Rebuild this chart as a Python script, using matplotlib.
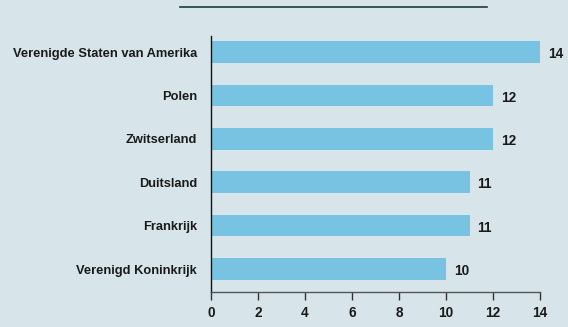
import matplotlib.pyplot as plt
from matplotlib.lines import Line2D

plt.rcParams['font.family'] = ['Liberation Sans', 'DejaVu Sans']

landen = ['Verenigde Staten van Amerika', 'Polen', 'Zwitserland',
          'Duitsland', 'Frankrijk', 'Verenigd Koninkrijk']
aantal = [14, 12, 12, 11, 11, 10]
xticks = [0, 2, 4, 6, 8, 10, 12, 14]

bg = '#d7e5ea'
bar_kleur = '#78c3e2'
tekst = '#1a1a1a'

fig = plt.figure(figsize=(5.68, 3.27), dpi=100, facecolor=bg)
ax = fig.add_axes([211 / 568, 1 - 292 / 327, 329 / 568, 256 / 327])
ax.set_facecolor(bg)

pos = list(range(len(landen)))
ax.barh(pos, aantal, height=0.5, color=bar_kleur)
for p, v in zip(pos, aantal):
    ax.annotate(str(v), (v, p), xytext=(5.5, -1.5), textcoords='offset points',
                va='center', ha='left', fontsize=9.8, fontweight='bold', color=tekst)

ax.set_xlim(0, 14)
ax.set_ylim(5.53, -0.37)
ax.set_xticks(xticks)
ax.set_yticks(pos)
ax.set_yticklabels(landen, fontsize=9.3, fontweight='bold', color=tekst)
ax.tick_params(axis='y', length=0, pad=10)
ax.tick_params(axis='x', length=6, width=1, color='#333333', labelsize=9.8,
               labelcolor=tekst, pad=4)
for lbl in ax.get_xticklabels():
    lbl.set_fontweight('bold')

for s in ['top', 'right']:
    ax.spines[s].set_visible(False)
ax.spines['left'].set_color('#111111')
ax.spines['bottom'].set_color('#555555')
ax.spines['left'].set_linewidth(1)
ax.spines['bottom'].set_linewidth(1)

# dunne lijn boven de grafiek
fig.add_artist(Line2D([180 / 568, 487 / 568], [1 - 7 / 327, 1 - 7 / 327],
                      color='#1d3a40', linewidth=1.2))

fig.savefig('out.png', dpi=100, facecolor=bg)
